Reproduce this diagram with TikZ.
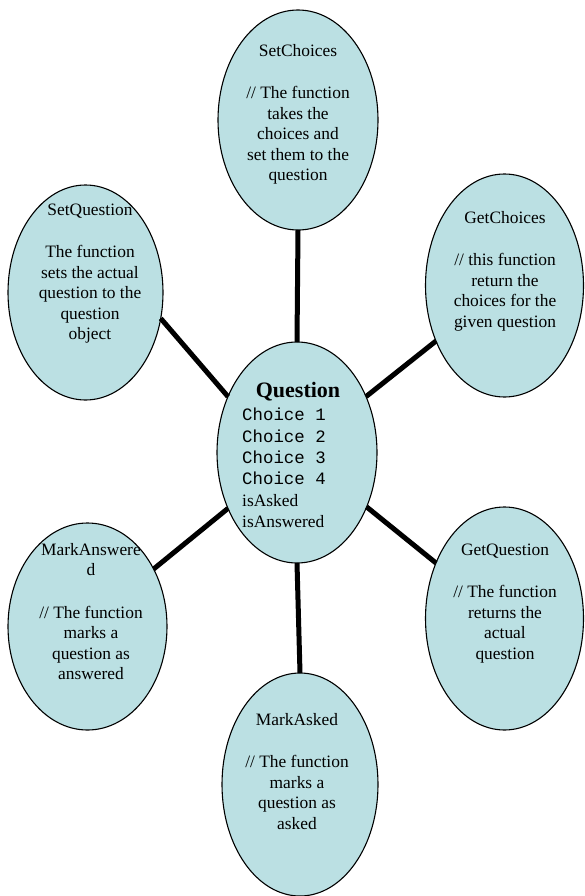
\documentclass[tikz,border=0pt]{standalone}
\usepackage{fontspec}
\setmainfont{Liberation Serif}
\setmonofont{Liberation Mono}
\usetikzlibrary{shapes.geometric}
\definecolor{bubbleFill}{RGB}{187,224,227}

\begin{document}
\begin{tikzpicture}[x=1pt, y=-1pt]
			\tikzstyle{FuncNode} = [ellipse, inner sep=0pt, outer sep=0pt, draw=black, line width=1.1pt, fill=bubbleFill]
			\tikzstyle{FuncText} = [align=center, inner sep=0pt, font=\fontsize{17.4}{20.5}\selectfont]
			\tikzstyle{link} = [line width=5pt]
			
			\useasboundingbox (0,0) rectangle (584,896);
			
			% ellipses
			\node (setChoicesNode) [FuncNode, minimum width=160pt, minimum height=220pt] at (298,120) {};
			\node (setQuestionNode) [FuncNode, minimum width=155pt, minimum height=215pt] at (85.5,292.5) {};
			\node (getChoicesNode) [FuncNode, minimum width=158pt, minimum height=223pt] at (504.5,285.5) {};
			\node (questionNode) [FuncNode, minimum width=160pt, minimum height=221pt] at (297,452.5) {};
			\node (markAnsweredNode) [FuncNode, minimum width=159pt, minimum height=207pt] at (87.5,626.5) {};
			\node (getQuestionNode) [FuncNode, minimum width=158pt, minimum height=223pt] at (504.5,618.5) {};
			\node (markAskedNode) [FuncNode, minimum width=156pt, minimum height=223pt] at (300,784.5) {};
			
			% connectors
			\draw [link] (setChoicesNode.south) -- (questionNode.north);
			\draw [link] (questionNode.south) -- (markAskedNode.north);
			\draw [link] (setQuestionNode.-19) -- (questionNode.141);
			\draw [link] (getChoicesNode.219) -- (questionNode.39);
			\draw [link] (markAnsweredNode.41) -- (questionNode.219);
			\draw [link] (getQuestionNode.141) -- (questionNode.-38);
			
			% texts
			\node (setChoicesText) [FuncText] at (298,114.5) {SetChoices\\[22pt]// The function\\takes the\\choices and\\set them to the\\question};
			\node (setQuestionText) [FuncText] at (90,273.5) {SetQuestion\\[22pt]The function\\sets the actual\\question to the\\question\\object};
			\node (getChoicesText) [FuncText] at (505,271) {GetChoices\\[22pt]// this function\\return the\\choices for the\\given question};
			\node (markAnsweredText) [FuncText] at (91,611.5) {MarkAnswere\\d\\[22pt]// The function\\marks a\\question as\\answered};
			\node (getQuestionText) [FuncText] at (505,603.5) {GetQuestion\\[22pt]// The function\\returns the\\actual\\question};
			\node (markAskedText) [FuncText] at (297,771.5) {MarkAsked\\[22pt]// The function\\marks a\\question as\\asked};
			
			\node (questionTitle) [anchor=base, inner sep=0pt, font=\fontsize{22}{24}\selectfont\bfseries] at (298,397) {Question};
			\node (questionFields) [anchor=west, align=left, inner sep=0pt, font=\fontsize{17.4}{21.4}\selectfont] at (242,468) {\texttt{Choice 1}\\\texttt{Choice 2}\\\texttt{Choice 3}\\\texttt{Choice 4}\\isAsked\\isAnswered};
		\end{tikzpicture}
\end{document}
